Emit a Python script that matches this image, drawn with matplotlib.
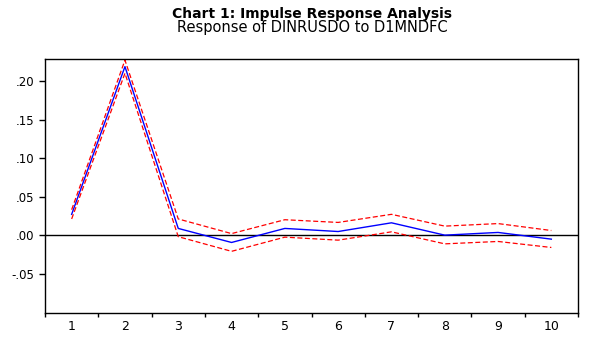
import matplotlib.pyplot as plt
from matplotlib.ticker import FixedLocator, NullFormatter

plt.rcParams["font.family"] = ["DejaVu Sans"]

# Impulse response of DINRUSDO to a D1MNDFC shock, with +/- 2 S.E. bands
periods = [1, 2, 3, 4, 5, 6, 7, 8, 9, 10]
response = [0.027, 0.2186, 0.0087, -0.0095, 0.0087, 0.0047, 0.016, 0.000, 0.0035, -0.0052]
upper = [0.033, 0.227, 0.021, 0.002, 0.020, 0.0165, 0.027, 0.0117, 0.015, 0.006]
lower = [0.021, 0.210, -0.002, -0.021, -0.0026, -0.0065, 0.0043, -0.0113, -0.0082, -0.016]
ytick_vals = [-0.05, 0.00, 0.05, 0.10, 0.15, 0.20]
ytick_text = ["-.05", ".00", ".05", ".10", ".15", ".20"]

fig = plt.figure(figsize=(6.0, 3.37), dpi=100)
ax = fig.add_axes([45 / 600, 1 - 313 / 337, 533 / 600, 254 / 337])

ax.axhline(0, color="black", lw=1.0)
ax.plot(periods, response, color="blue", lw=1.0)
ax.plot(periods, upper, color="red", lw=0.9, ls=(0, (4, 2)))
ax.plot(periods, lower, color="red", lw=0.9, ls=(0, (4, 2)))

ax.set_xlim(0.5, 10.5)
ax.set_ylim(-0.101, 0.2285)
ax.set_xticks(periods)
ax.set_xticklabels([str(p) for p in periods])
ax.xaxis.set_minor_locator(FixedLocator([p - 0.5 for p in periods] + [10.5]))
ax.xaxis.set_minor_formatter(NullFormatter())
ax.tick_params(axis="x", which="major", length=0, pad=5, labelsize=9)
ax.tick_params(axis="x", which="minor", length=3, width=1.0, direction="out")
ax.set_yticks(ytick_vals)
ax.set_yticklabels(ytick_text)
ax.tick_params(axis="y", length=4.3, width=1.0, direction="out", labelsize=8.5, pad=3.2)

for s in ax.spines.values():
    s.set_linewidth(1.0)
    s.set_color("black")

fig.text(0.52, 1 - 18.0 / 337, "Chart 1: Impulse Response Analysis", ha="center",
         va="baseline", fontsize=10, fontweight="bold")
fig.text(0.52, 1 - 32.0 / 337, "Response of DINRUSDO to D1MNDFC", ha="center",
         va="baseline", fontsize=10.5)

fig.savefig("out.png", dpi=100)
